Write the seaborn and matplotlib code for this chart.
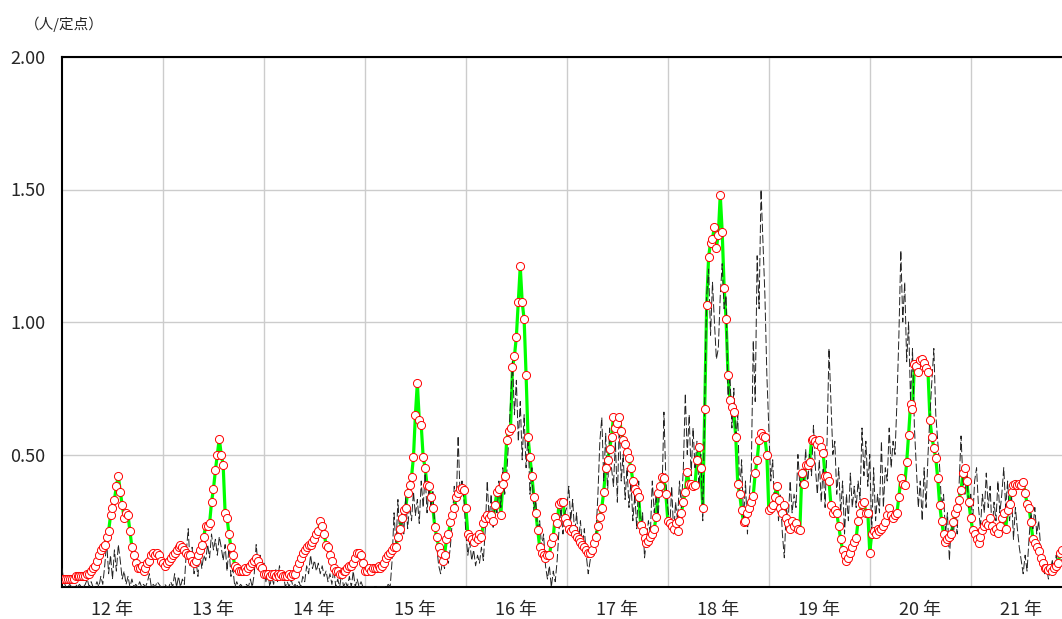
from matplotlib import pyplot as plt
import seaborn as sb
import pandas as pd
import numpy as np

# year labels (heisei 12 .. 21), one per 52 weeks
years = ['12 年', '13 年', '14 年', '15 年', '16 年', '17 年', '18 年', '19 年', '20 年', '21 年']
weeks_per_year = 52

# green line / red circles (weekly, per sentinel)
avg_12 = [0.03, 0.03, 0.03, 0.03, 0.03, 0.03, 0.03, 0.04, 0.04, 0.04,
          0.04, 0.04, 0.04, 0.05, 0.05, 0.06, 0.07, 0.08, 0.10, 0.12,
          0.14, 0.15, 0.16, 0.19, 0.21, 0.27, 0.30, 0.33, 0.38, 0.42,
          0.36, 0.31, 0.26, 0.28, 0.27, 0.21, 0.15, 0.12, 0.09, 0.07,
          0.07, 0.08, 0.06, 0.07, 0.09, 0.10, 0.12, 0.13, 0.12, 0.13, 0.12, 0.10]
avg_13 = [0.09, 0.08, 0.09, 0.10, 0.11, 0.12, 0.13, 0.14, 0.15, 0.16,
          0.15, 0.14, 0.13, 0.12, 0.12, 0.10, 0.09, 0.10, 0.12, 0.14,
          0.16, 0.19, 0.23, 0.23, 0.24, 0.32, 0.37, 0.44, 0.50, 0.56,
          0.50, 0.46, 0.28, 0.26, 0.20, 0.15, 0.12, 0.08, 0.07, 0.06,
          0.06, 0.06, 0.07, 0.06, 0.07, 0.08, 0.09, 0.10, 0.11, 0.10, 0.08, 0.07]
avg_14 = [0.05, 0.05, 0.05, 0.04, 0.05, 0.05, 0.04, 0.05, 0.04, 0.05,
          0.04, 0.04, 0.04, 0.05, 0.04, 0.05, 0.05, 0.07, 0.09, 0.11,
          0.13, 0.14, 0.15, 0.16, 0.16, 0.17, 0.18, 0.20, 0.21, 0.25,
          0.23, 0.20, 0.16, 0.15, 0.12, 0.10, 0.07, 0.06, 0.06, 0.05,
          0.05, 0.06, 0.06, 0.07, 0.08, 0.08, 0.09, 0.11, 0.13, 0.13, 0.12, 0.09]
avg_15 = [0.06, 0.06, 0.07, 0.06, 0.07, 0.07, 0.07, 0.08, 0.07, 0.08,
          0.09, 0.11, 0.12, 0.13, 0.14, 0.15, 0.15, 0.19, 0.22, 0.26,
          0.29, 0.30, 0.355, 0.385, 0.415, 0.49, 0.65, 0.77, 0.63, 0.61,
          0.49, 0.45, 0.385, 0.38, 0.34, 0.30, 0.225, 0.19, 0.15, 0.13,
          0.10, 0.12, 0.18, 0.20, 0.245, 0.27, 0.30, 0.34, 0.355, 0.37, 0.375, 0.365]
avg_16 = [0.30, 0.20, 0.19, 0.18, 0.17, 0.19, 0.18, 0.20, 0.19, 0.24,
          0.26, 0.27, 0.26, 0.27, 0.25, 0.31, 0.36, 0.37, 0.27, 0.39,
          0.42, 0.555, 0.59, 0.60, 0.83, 0.87, 0.945, 1.075, 1.21, 1.075,
          1.01, 0.80, 0.567, 0.49, 0.42, 0.34, 0.28, 0.215, 0.15, 0.13,
          0.12, 0.11, 0.12, 0.12, 0.165, 0.19, 0.265, 0.24, 0.315, 0.32, 0.32, 0.26]
avg_17 = [0.24, 0.22, 0.21, 0.22, 0.20, 0.19, 0.18, 0.17, 0.16, 0.15,
          0.14, 0.13, 0.13, 0.14, 0.165, 0.19, 0.23, 0.265, 0.30, 0.36,
          0.45, 0.48, 0.52, 0.565, 0.64, 0.60, 0.62, 0.64, 0.59, 0.555,
          0.54, 0.51, 0.485, 0.45, 0.40, 0.37, 0.36, 0.34, 0.235, 0.21,
          0.185, 0.165, 0.175, 0.19, 0.20, 0.22, 0.265, 0.355, 0.38, 0.415, 0.41, 0.35]
avg_18 = [0.25, 0.24, 0.23, 0.22, 0.24, 0.21, 0.25, 0.28, 0.32, 0.36,
          0.435, 0.39, 0.39, 0.38, 0.385, 0.48, 0.53, 0.45, 0.30, 0.67,
          1.065, 1.245, 1.30, 1.315, 1.36, 1.28, 1.33, 1.48, 1.34, 1.13,
          1.01, 0.80, 0.705, 0.68, 0.66, 0.565, 0.39, 0.35, 0.29, 0.245,
          0.25, 0.28, 0.30, 0.32, 0.345, 0.43, 0.48, 0.555, 0.58, 0.57, 0.565, 0.50]
avg_19 = [0.29, 0.30, 0.31, 0.34, 0.38, 0.33, 0.30, 0.28, 0.31, 0.26,
          0.24, 0.22, 0.25, 0.23, 0.24, 0.22, 0.215, 0.43, 0.39, 0.46,
          0.46, 0.47, 0.555, 0.56, 0.55, 0.54, 0.555, 0.53, 0.505, 0.42,
          0.42, 0.40, 0.31, 0.28, 0.29, 0.28, 0.23, 0.18, 0.14, 0.12,
          0.10, 0.11, 0.13, 0.15, 0.17, 0.185, 0.25, 0.28, 0.315, 0.32, 0.28, 0.28]
avg_20 = [0.13, 0.20, 0.21, 0.20, 0.22, 0.21, 0.22, 0.23, 0.245, 0.27,
          0.30, 0.27, 0.26, 0.27, 0.28, 0.34, 0.41, 0.39, 0.385, 0.47,
          0.575, 0.69, 0.67, 0.84, 0.835, 0.81, 0.855, 0.86, 0.845, 0.825,
          0.81, 0.63, 0.565, 0.525, 0.485, 0.41, 0.31, 0.25, 0.20, 0.17,
          0.18, 0.19, 0.20, 0.245, 0.28, 0.30, 0.33, 0.365, 0.43, 0.45, 0.40, 0.32]
avg_21 = [0.26, 0.215, 0.20, 0.18, 0.165, 0.19, 0.215, 0.23, 0.24, 0.235,
          0.26, 0.23, 0.21, 0.22, 0.205, 0.23, 0.26, 0.28, 0.22, 0.29,
          0.315, 0.36, 0.385, 0.39, 0.385, 0.39, 0.385, 0.395, 0.355, 0.315,
          0.30, 0.245, 0.18, 0.165, 0.15, 0.135, 0.11, 0.09, 0.07, 0.07,
          0.065, 0.07, 0.06, 0.07, 0.08, 0.09, 0.13, 0.14]

# black dashed line (weekly, per sentinel)
pref_12 = [0.07, 0.02, 0.00, 0.00, 0.01, 0.00, 0.00, 0.01, 0.00, 0.01,
           0.00, 0.00, 0.01, 0.03, 0.00, 0.02, 0.00, 0.00, 0.02, 0.00,
           0.04, 0.01, 0.08, 0.17, 0.05, 0.12, 0.03, 0.14, 0.06, 0.16,
           0.10, 0.03, 0.06, 0.01, 0.04, 0.00, 0.03, 0.00, 0.01, 0.00,
           0.02, 0.00, 0.01, 0.00, 0.02, 0.05, 0.00, 0.01, 0.00, 0.02, 0.01, 0.00]
pref_13 = [0.00, 0.01, 0.00, 0.00, 0.02, 0.00, 0.05, 0.00, 0.04, 0.00,
           0.03, 0.01, 0.13, 0.22, 0.08, 0.15, 0.05, 0.10, 0.04, 0.13,
           0.07, 0.12, 0.10, 0.16, 0.11, 0.20, 0.14, 0.18, 0.12, 0.19,
           0.15, 0.10, 0.16, 0.06, 0.15, 0.04, 0.07, 0.00, 0.02, 0.00,
           0.01, 0.00, 0.00, 0.01, 0.00, 0.03, 0.00, 0.05, 0.16, 0.08, 0.12, 0.04]
pref_14 = [0.09, 0.02, 0.06, 0.00, 0.04, 0.01, 0.07, 0.02, 0.08, 0.03,
           0.05, 0.00, 0.02, 0.00, 0.03, 0.00, 0.01, 0.00, 0.02, 0.00,
           0.04, 0.02, 0.08, 0.05, 0.12, 0.07, 0.10, 0.06, 0.09, 0.05,
           0.08, 0.04, 0.06, 0.02, 0.05, 0.01, 0.07, 0.00, 0.03, 0.00,
           0.05, 0.00, 0.02, 0.00, 0.04, 0.00, 0.06, 0.00, 0.03, 0.00, 0.02, 0.00]
pref_15 = [0.00, 0.00, 0.00, 0.00, 0.00, 0.00, 0.00, 0.00, 0.00, 0.00,
           0.00, 0.00, 0.01, 0.00, 0.10, 0.28, 0.15, 0.33, 0.18, 0.28,
           0.20, 0.34, 0.22, 0.31, 0.25, 0.36, 0.27, 0.33, 0.24, 0.40,
           0.30, 0.43, 0.28, 0.38, 0.30, 0.36, 0.22, 0.15, 0.08, 0.05,
           0.10, 0.07, 0.12, 0.09, 0.15, 0.25, 0.38, 0.30, 0.57, 0.35, 0.40, 0.33]
pref_16 = [0.20, 0.12, 0.17, 0.10, 0.14, 0.08, 0.12, 0.09, 0.15, 0.10,
           0.22, 0.40, 0.25, 0.35, 0.22, 0.32, 0.28, 0.40, 0.30, 0.45,
           0.35, 0.42, 0.55, 0.70, 0.85, 0.65, 0.78, 0.55, 0.70, 0.48,
           0.65, 0.45, 0.58, 0.35, 0.45, 0.28, 0.33, 0.20, 0.25, 0.15,
           0.20, 0.08, 0.03, 0.08, 0.00, 0.06, 0.02, 0.10, 0.22, 0.30, 0.20, 0.28]
pref_17 = [0.30, 0.38, 0.25, 0.33, 0.20, 0.28, 0.17, 0.25, 0.15, 0.22,
           0.12, 0.05, 0.10, 0.15, 0.12, 0.20, 0.35, 0.55, 0.64, 0.40,
           0.58, 0.35, 0.60, 0.45, 0.38, 0.55, 0.32, 0.62, 0.40, 0.50,
           0.33, 0.45, 0.30, 0.40, 0.25, 0.35, 0.22, 0.40, 0.20, 0.28,
           0.11, 0.18, 0.25, 0.20, 0.40, 0.28, 0.35, 0.25, 0.42, 0.35, 0.66, 0.40]
pref_18 = [0.30, 0.22, 0.38, 0.20, 0.32, 0.25, 0.40, 0.30, 0.45, 0.73,
           0.50, 0.65, 0.42, 0.60, 0.45, 0.55, 0.38, 0.50, 0.25, 0.70,
           1.10, 1.20, 0.95, 1.15, 1.00, 0.86, 0.90, 1.10, 1.22, 1.05,
           1.10, 0.70, 0.80, 0.60, 0.75, 0.55, 0.65, 0.35, 0.48, 0.25,
           0.40, 0.20, 0.35, 0.45, 0.93, 0.70, 1.25, 1.05, 1.50, 1.30, 1.10, 0.80]
pref_19 = [0.60, 0.40, 0.48, 0.30, 0.38, 0.25, 0.35, 0.20, 0.11, 0.30,
           0.25, 0.40, 0.28, 0.35, 0.30, 0.50, 0.38, 0.45, 0.40, 0.52,
           0.38, 0.50, 0.42, 0.61, 0.45, 0.35, 0.48, 0.32, 0.45, 0.30,
           0.55, 0.90, 0.70, 0.50, 0.55, 0.35, 0.45, 0.28, 0.40, 0.20,
           0.35, 0.25, 0.43, 0.30, 0.38, 0.30, 0.40, 0.33, 0.60, 0.42, 0.55, 0.38]
pref_20 = [0.50, 0.20, 0.45, 0.25, 0.35, 0.28, 0.55, 0.30, 0.45, 0.40,
           0.60, 0.45, 0.55, 0.50, 0.70, 0.95, 1.27, 1.00, 1.15, 0.85,
           1.00, 0.70, 0.90, 0.60, 0.45, 0.30, 0.40, 0.25, 0.45, 0.30,
           0.50, 0.65, 0.78, 0.90, 0.65, 0.55, 0.45, 0.30, 0.35, 0.20,
           0.28, 0.10, 0.25, 0.18, 0.30, 0.20, 0.38, 0.57, 0.40, 0.35, 0.42, 0.30]
pref_21 = [0.35, 0.25, 0.40, 0.45, 0.30, 0.22, 0.35, 0.28, 0.43, 0.30,
           0.38, 0.20, 0.32, 0.25, 0.40, 0.28, 0.35, 0.45, 0.30, 0.40,
           0.25, 0.35, 0.18, 0.30, 0.22, 0.15, 0.10, 0.05, 0.12, 0.06,
           0.18, 0.28, 0.22, 0.30, 0.20, 0.25, 0.15, 0.10, 0.05, 0.08,
           0.03, 0.06, 0.10, 0.05, 0.12, 0.08, 0.15, 0.10]

avg = avg_12 + avg_13 + avg_14 + avg_15 + avg_16 + avg_17 + avg_18 + avg_19 + avg_20 + avg_21
pref = pref_12 + pref_13 + pref_14 + pref_15 + pref_16 + pref_17 + pref_18 + pref_19 + pref_20 + pref_21

df_avg = pd.DataFrame({'week': np.arange(len(avg)), 'value': avg})
df_pref = pd.DataFrame({'week': np.arange(len(pref)), 'value': pref})

sb.set_style('white')
plt.rcParams['font.family'] = ['Noto Sans CJK JP', 'DejaVu Sans']
plt.rcParams['lines.scale_dashes'] = False

fig = plt.figure(figsize=(10.62, 6.19), dpi=100)
ax = fig.add_axes([62 / 1062, 32 / 619, 1000 / 1062, 530 / 619])

sb.lineplot(data=df_avg, x='week', y='value', ax=ax, color='#00ff00', linewidth=2.3,
            errorbar=None, zorder=2)
sb.lineplot(data=df_pref, x='week', y='value', ax=ax, color='#222222', linewidth=0.7,
            linestyle=(0, (6, 2)), errorbar=None, zorder=3)
sb.scatterplot(data=df_avg, x='week', y='value', ax=ax, color='white', edgecolor='red',
               linewidth=0.7, s=34, zorder=4)

ax.set_xlim(0, 515)
ax.set_ylim(0, 2.0)
ax.set_yticks([0.5, 1.0, 1.5, 2.0])
ax.set_yticklabels(['0.50', '1.00', '1.50', '2.00'])
ax.set_xticks([weeks_per_year * i + weeks_per_year / 2 for i in range(len(years))])
ax.set_xticklabels(years)
ax.set_xticks([weeks_per_year * i for i in range(1, len(years))], minor=True)

ax.set_axisbelow(True)
ax.grid(axis='x', which='minor', color='#cccccc', linewidth=1)
ax.grid(axis='y', which='major', color='#cccccc', linewidth=1)
ax.tick_params(axis='x', which='major', length=0, pad=10, labelsize=13)
ax.tick_params(axis='x', which='minor', length=5, color='#cccccc', width=1)
ax.tick_params(axis='y', length=0, pad=12, labelsize=13)

for side in ['left', 'bottom', 'top']:
    ax.spines[side].set_color('black')
    ax.spines[side].set_linewidth(1.5)
ax.spines['right'].set_visible(False)

ax.set_xlabel('')
ax.set_ylabel('')
fig.text(25 / 1062, 1 - 24 / 619, '（人/定点）', fontsize=10.5, ha='left', va='center')

plt.savefig('out.png', dpi=100)
